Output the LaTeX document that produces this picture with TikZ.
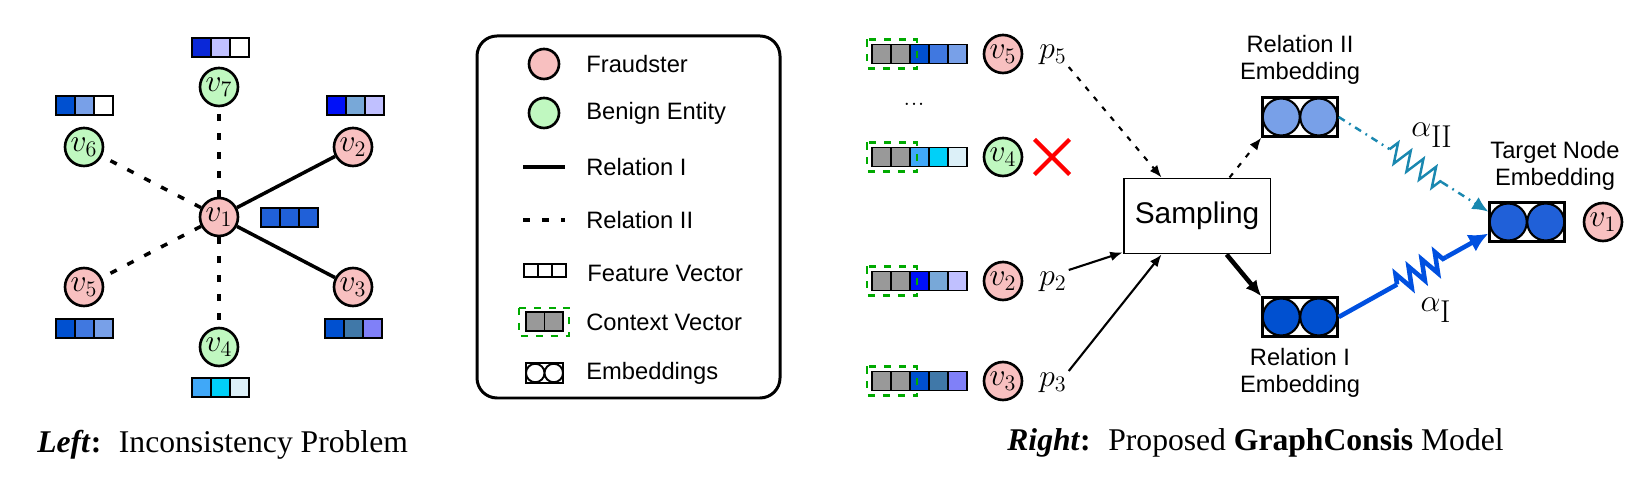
\documentclass[tikz,border=0pt]{standalone}
\usepackage{fix-cm}
\usepackage{amsmath}
\usepackage{fontspec}
\newfontfamily\sansfnt{Liberation Sans}
\newfontfamily\seriffnt{Liberation Serif}
\usetikzlibrary{arrows.meta,calc,decorations.pathmorphing,shapes.misc}

\definecolor{fraud}{HTML}{F8C0C0}
\definecolor{benign}{HTML}{C0F8C0}
\definecolor{ctxgray}{HTML}{999999}
\definecolor{ctxgreen}{HTML}{00AA00}
\definecolor{attnteal}{HTML}{1A88B0}
\definecolor{attnblue}{HTML}{0050E0}
% feature colours
\definecolor{fa}{HTML}{2060D8}
\definecolor{fb}{HTML}{0010F8}
\definecolor{fc}{HTML}{78A8D8}
\definecolor{fd}{HTML}{C0C0FF}
\definecolor{fe}{HTML}{0050D0}
\definecolor{ff}{HTML}{4078A8}
\definecolor{fg}{HTML}{8080F8}
\definecolor{fh}{HTML}{40A8F8}
\definecolor{fi}{HTML}{00D0F8}
\definecolor{fj}{HTML}{DCF0F8}
\definecolor{fk}{HTML}{4078E0}
\definecolor{fl}{HTML}{78A0E8}
\definecolor{fm}{HTML}{0A28D8}

\newcommand{\featvec}[5]{%
  \foreach \cc [count=\k from 0] in {#3,#4,#5}
    \draw[cell, fill=\cc] ({#1+19*\k},{#2-9.5}) rectangle ++(19,19);}
\newcommand{\ctxvec}[4]{%
  \foreach \cc [count=\k from 0] in {ctxgray,ctxgray,#2,#3,#4}
    \draw[cell, fill=\cc] ({872+19*\k},{#1-9.5}) rectangle ++(19,19);
  \draw[ctx box] (867,{#1-14.5}) rectangle (917,{#1+14.5});}
\newcommand{\embbox}[4]{%
  \node[emb box] (#1) at (#2,#3) {};
  \node[emb dot, fill=#4] (#1a) at ($(#1.center)+(-18.75,0)$) {};
  \node[emb dot, fill=#4] (#1b) at ($(#1.center)+(18.75,0)$) {};}

\begin{document}
\begin{tikzpicture}[x=0.02cm, y=-0.02cm,
    fraud node/.style={circle, draw, line width=1.5pt, fill=fraud, minimum size=0.76cm, inner sep=0pt, font=\fontsize{18}{20}\selectfont},
    benign node/.style={fraud node, fill=benign},
    rel one/.style={line width=2pt},
    rel two/.style={line width=2pt, dash pattern=on 4pt off 6.8pt},
    cell/.style={draw, line width=1.1pt},
    ctx box/.style={draw=ctxgreen, line width=1.6pt, dash pattern=on 4pt off 4.5pt},
    lgd text/.style={anchor=west, inner sep=0pt, font=\sansfnt\fontsize{13.5}{15}\selectfont},
    emb box/.style={draw, line width=1.4pt, minimum width=1.5cm, minimum height=0.78cm, inner sep=0pt},
    emb dot/.style={circle, draw, line width=1.2pt, minimum size=0.74cm, inner sep=0pt},
    emb lbl/.style={align=center, inner sep=0pt, font=\sansfnt\fontsize{13.5}{15.5}\selectfont},
    plabel/.style={inner sep=1pt, font=\fontsize{18}{20}\selectfont},
    thin arrow/.style={line width=1.2pt, -{Latex[length=7pt, width=5.5pt]}},
    dotted arrow/.style={thin arrow, dash pattern=on 3pt off 4.4pt},
    thick arrow/.style={line width=2.6pt, -{Latex[length=9pt, width=8pt]}},
    zig/.style={decorate, decoration={zigzag, segment length=#1, amplitude=0.2cm}},
    caption/.style={inner sep=0pt, font=\seriffnt\fontsize{18}{20}\selectfont}]
  \useasboundingbox (0,0) rectangle (1638,492);

  % left: graph around v1
  \node[fraud node] (v1) at (219,217) {$v_1$};
  \node[fraud node] (v2) at (353,147) {$v_2$};
  \node[fraud node] (v3) at (353,287) {$v_3$};
  \node[benign node] (v4) at (219,347) {$v_4$};
  \node[fraud node] (v5) at (84,287) {$v_5$};
  \node[benign node] (v6) at (84,147) {$v_6$};
  \node[benign node] (v7) at (219,87) {$v_7$};
  \draw[rel one] (v1) -- (v2);
  \draw[rel one] (v1) -- (v3);
  \draw[rel two] (v1) -- (v4);
  \draw[rel two] (v1) -- (v5);
  \draw[rel two] (v1) -- (v6);
  \draw[rel two] (v1) -- (v7);
  \featvec{261}{217.5}{fa}{fa}{fa}
  \featvec{327}{105.5}{fb}{fc}{fd}
  \featvec{325}{328.5}{fe}{ff}{fg}
  \featvec{192}{387.5}{fh}{fi}{fj}
  \featvec{56}{328.5}{fe}{fk}{fl}
  \featvec{56}{105.5}{fe}{fl}{white}
  \featvec{192}{47.5}{fm}{fd}{white}

  % legend
  \draw[line width=1.7pt, rounded corners=0.4cm] (477,36) rectangle (780,398);
  \node[fraud node, minimum size=0.6cm] (lf) at (544,64) {};
  \node[benign node, minimum size=0.6cm] (lb) at (544,113) {};
  \draw[rel one] (523,167) -- (565,167);
  \draw[rel two] (523,220) -- (565,220);
  \foreach \k in {0,1,2}
    \draw[line width=1pt] ({524+14*\k},264) rectangle ++(14,13);
  \foreach \k in {0,1}
    \draw[cell, fill=ctxgray] ({526+18.5*\k},312) rectangle ++(18.5,19);
  \draw[ctx box] (519,308) rectangle (569,336);
  \draw[line width=1.1pt] (526,363) rectangle (563,383);
  \draw[line width=1.1pt] (535.25,373) circle (9.25) (553.75,373) circle (9.25);
  \node[lgd text] (t1) at (586,64) {Fraudster};
  \node[lgd text] (t2) at (586,113) {Benign Entity};
  \node[lgd text] (t3) at (586,167) {Relation I};
  \node[lgd text] (t4) at (586,220) {Relation II};
  \node[lgd text] (t5) at (587,273) {Feature Vector};
  \node[lgd text] (t6) at (586,322) {Context Vector};
  \node[lgd text] (t7) at (586,373) {Embeddings};

  % right: sampling and aggregation
  \ctxvec{54}{fe}{fk}{fl}
  \ctxvec{157}{fh}{fi}{fj}
  \ctxvec{281}{fb}{fc}{fd}
  \ctxvec{381}{fe}{ff}{fg}
  \node[inner sep=0pt, font=\fontsize{16}{18}\selectfont] (dots) at (914,104) {...};
  \node[fraud node] (r5) at (1003,54) {$v_5$};
  \node[benign node] (r4) at (1003,157) {$v_4$};
  \node[fraud node] (r2) at (1003,281) {$v_2$};
  \node[fraud node] (r3) at (1003,381) {$v_3$};
  \node[plabel] (p5) at (1053,55) {$p_5$};
  \node[plabel] (p2) at (1053,282) {$p_2$};
  \node[plabel] (p3) at (1053,383) {$p_3$};
  \node[draw=red, cross out, line width=2.4pt, minimum size=0.62cm] (x4) at (1052,157) {};

  \node[draw, line width=1.1pt, minimum width=2.94cm, minimum height=1.5cm,
        font=\sansfnt\fontsize{17}{20}\selectfont] (samp) at (1197,216) {Sampling};
  \embbox{rel2}{1300}{117}{fl}
  \embbox{rel1}{1300}{317}{fe}
  \embbox{tgt}{1527}{222}{fa}
  \node[emb lbl] (rel2lbl) at (1300,60) {Relation II\\Embedding};
  \node[emb lbl] (rel1lbl) at (1300,373) {Relation I\\Embedding};
  \node[emb lbl] (tgtlbl) at (1555,166) {Target Node\\Embedding};
  \node[fraud node] (tv1) at (1603,222) {$v_1$};

  \draw[dotted arrow] (p5.south east) -- ($(samp.north west)+(39,0)$);
  \draw[thin arrow] (p2.north east) -- ($(samp.south west)+(0,-2)$);
  \draw[thin arrow] (p3.north east) -- ($(samp.south west)+(39,0)$);
  \draw[dotted arrow] ($(samp.north west)+(107,0)$) -- (rel2.south west);
  \draw[thick arrow] ($(samp.south west)+(104,0)$) -- (rel1.north west);

  % attention weights
  \coordinate (in2) at ($(tgt.north west)!0.25!(tgt.south west)$);
  \coordinate (in1) at ($(tgt.north west)!0.78!(tgt.south west)$);
  \draw[attnteal, line width=1.4pt, dash pattern=on 4pt off 3pt on 1pt off 3pt]
    (rel2.east) -- ($(rel2.east)!0.34!(in2)$);
  \draw[attnteal, line width=1.4pt, zig=0.3cm]
    ($(rel2.east)!0.34!(in2)$) -- ($(rel2.east)!0.69!(in2)$);
  \draw[attnteal, line width=1.4pt, dash pattern=on 4pt off 3pt on 1pt off 3pt, -{Latex[length=9pt, width=8pt]}]
    ($(rel2.east)!0.69!(in2)$) -- (in2);
  \draw[attnblue, line width=2.6pt] (rel1.east) -- ($(rel1.east)!0.39!(in1)$);
  \draw[attnblue, line width=2.6pt, zig=0.3cm]
    ($(rel1.east)!0.39!(in1)$) -- ($(rel1.east)!0.72!(in1)$);
  \draw[attnblue, line width=2.6pt, -{Latex[length=11pt, width=11pt]}]
    ($(rel1.east)!0.72!(in1)$) -- (in1);
  \node[plabel] (a2) at (1432,135) {$\alpha_{\textstyle\mathrm{II}}$};
  \node[plabel] (a1) at (1436,310) {$\alpha_{\textstyle\mathrm{I}}$};

  % captions
  \node[caption, anchor=west] (capl) at (37,445) {\textbf{\textit{Left}:}\hspace{10pt}Inconsistency Problem};
  \node[caption, anchor=west] (capr) at (1007,443) {\textbf{\textit{Right}:}\hspace{10pt}Proposed \textbf{GraphConsis} Model};
\end{tikzpicture}
\end{document}
